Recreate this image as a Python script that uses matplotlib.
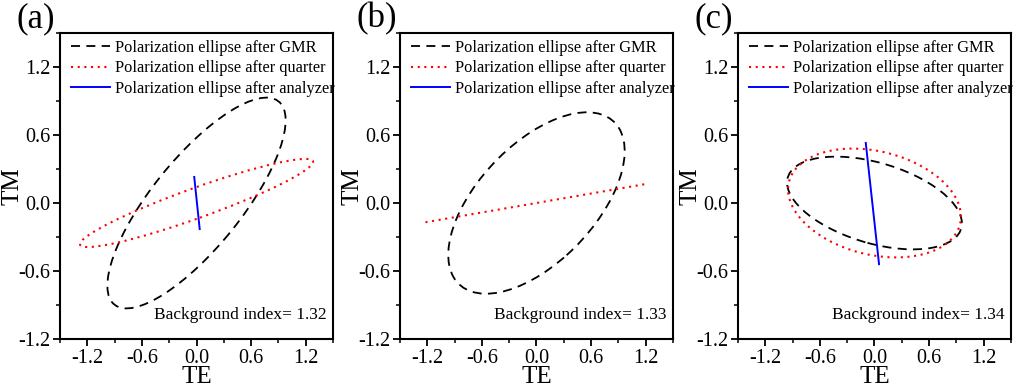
import matplotlib
matplotlib.use("Agg")
import matplotlib.pyplot as plt
from matplotlib.patches import Ellipse
from matplotlib.ticker import MultipleLocator

plt.rcParams['font.family'] = ['Liberation Serif', 'DejaVu Serif']
plt.rcParams['axes.unicode_minus'] = False

panel_tags = ['(a)', '(b)', '(c)']
bg_index = [1.32, 1.33, 1.34]

# ellipses as (semi-major, semi-minor, tilt in degrees), centred at origin
gmr_ellipse = [(1.276, 0.443, 43.1), (1.122, 0.567, 35.7), (0.98, 0.36, -12.3)]
# quarter-wave output: ellipse (a, c) or a straight line (b)
quarter_ellipse = [(1.331, 0.135, 16.0), None, (0.96, 0.46, -9.4)]
quarter_line_x = [None, [-1.22, 1.22], None]
quarter_line_y = [None, [-0.17, 0.17], None]
# analyzer output: linear polarization (segments)
analyzer_x = [[-0.025, 0.035], [], [-0.096, 0.05]]
analyzer_y = [[0.23, -0.23], [], [0.53, -0.54]]

x_ticks = [-1.2, -0.6, 0.0, 0.6, 1.2]
y_ticks = [-1.2, -0.6, 0.0, 0.6, 1.2]

lbl_gmr = 'Polarization ellipse after GMR'
lbl_qw = 'Polarization ellipse after quarter'
lbl_an = 'Polarization ellipse after analyzer'

dash_gmr = (0, (5, 3.5))
dot_qw = (0, (1, 2.2))

fig = plt.figure(figsize=(10.24, 3.91), dpi=100)
lefts = [0.0586, 0.3906, 0.7207]

for i in range(3):
    ax = fig.add_axes([lefts[i], 0.133, 0.2666, 0.7826])

    a, b, ang = gmr_ellipse[i]
    ax.add_patch(Ellipse((0, 0), 2 * a, 2 * b, angle=ang, fill=False,
                         edgecolor='black', linewidth=1.3, linestyle=dash_gmr))
    if quarter_ellipse[i] is not None:
        a, b, ang = quarter_ellipse[i]
        ax.add_patch(Ellipse((0, 0), 2 * a, 2 * b, angle=ang, fill=False,
                             edgecolor='red', linewidth=1.5, linestyle=dot_qw))
    else:
        ax.plot(quarter_line_x[i], quarter_line_y[i], color='red',
                linewidth=1.5, linestyle=dot_qw)
    if analyzer_x[i]:
        ax.plot(analyzer_x[i], analyzer_y[i], color='blue', linewidth=1.4)

    # legend proxies
    ax.plot([], [], color='black', linewidth=1.3, linestyle=dash_gmr, label=lbl_gmr)
    ax.plot([], [], color='red', linewidth=1.5, linestyle=dot_qw, label=lbl_qw)
    ax.plot([], [], color='blue', linewidth=1.4, label=lbl_an)
    ax.legend(loc='upper left', bbox_to_anchor=(0.0, 1.015), frameon=False,
              fontsize=11.8, handlelength=2.35, handletextpad=0.3,
              labelspacing=0.27, borderaxespad=0.3)

    ax.set_xlim(-1.5, 1.5)
    ax.set_ylim(-1.2, 1.5)
    ax.set_xticks(x_ticks)
    ax.set_yticks(y_ticks)
    ax.xaxis.set_minor_locator(MultipleLocator(0.3))
    ax.yaxis.set_minor_locator(MultipleLocator(0.3))
    ax.tick_params(which='major', direction='out', length=5, width=1.3,
                   labelsize=14.5, pad=2, top=False, right=False)
    ax.tick_params(which='minor', direction='out', length=3, width=1.1,
                   top=False, right=False)
    for s in ax.spines.values():
        s.set_linewidth(1.5)
    ax.set_xlabel('TE', fontsize=18, labelpad=-1)
    ax.set_ylabel('TM', fontsize=18)
    ax.yaxis.set_label_coords(-0.135, 0.5)

    ax.text(0.975, 0.08, 'Background index= %.2f' % bg_index[i], fontsize=12.5,
            ha='right', va='center', transform=ax.transAxes)

    fig.text(lefts[i] - 0.042, 0.953, panel_tags[i], fontsize=25,
             ha='left', va='center')

fig.savefig('out.png', dpi=100)
